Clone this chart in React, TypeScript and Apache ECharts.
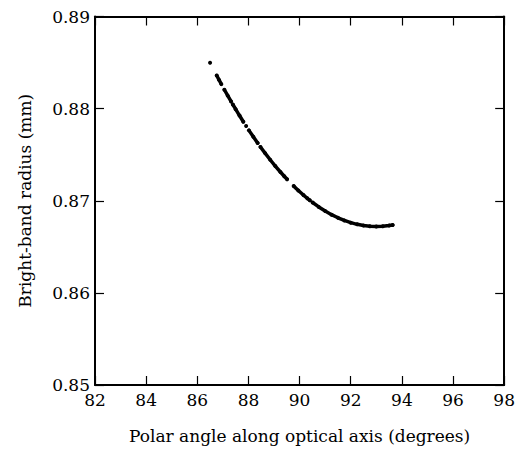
import React, { useEffect, useRef } from "react";
import * as echarts from "echarts";

// Polar angle (degrees) and bright-band radius (mm); null marks a gap in the trace
const angles: number[] = [
  86.5, 86.5,
  86.76, 86.85, 86.94, 86.94,
  87.06, 87.19, 87.32, 87.32,
  87.39, 87.5, 87.65, 87.8, 87.8,
  87.91, 87.91,
  88.02, 88.19, 88.36, 88.36,
  88.47, 88.65, 88.85, 89.05, 89.25, 89.4, 89.51, 89.51,
  89.77, 89.95, 90.15, 90.3, 90.4, 90.4,
  90.51, 90.75, 91.0, 91.25, 91.5, 91.75, 92.0, 92.25, 92.5, 92.75, 93.0, 93.25, 93.5, 93.64,
];
const radii: (number | null)[] = [
  0.88499, null,
  0.88359, 0.88312, 0.88266, null,
  0.88205, 0.88141, 0.88078, null,
  0.88045, 0.87994, 0.87925, 0.87858, null,
  0.87811, null,
  0.87764, 0.87694, 0.87626, null,
  0.87584, 0.87517, 0.87445, 0.87377, 0.87312, 0.87266, 0.87233, null,
  0.87159, 0.87112, 0.87062, 0.87027, 0.87005, null,
  0.86981, 0.86933, 0.86888, 0.86849, 0.86815, 0.86786, 0.86762, 0.86744, 0.86731, 0.86723, 0.8672, 0.86723, 0.86731, 0.86737,
];

const FONT = "DejaVu Serif";

export default function App() {
  const ref = useRef<HTMLDivElement>(null);
  useEffect(() => {
    if (!ref.current) return;
    const chart = echarts.init(ref.current, undefined, { renderer: "svg" });
    const data = angles.map((a, i) => [a, radii[i] === null ? null : radii[i]]);
    const axisLine = { show: true, lineStyle: { color: "#000", width: 2 } };
    const axisTick = { show: true, inside: true, length: 9, lineStyle: { color: "#000", width: 1.2 } };
    chart.setOption({
      animation: false,
      backgroundColor: "#fff",
      grid: { left: 76, top: 6, right: 4, bottom: 51, containLabel: false },
      xAxis: [
        {
          type: "value",
          min: 82,
          max: 98,
          interval: 2,
          axisLine,
          axisTick,
          splitLine: { show: false },
          axisLabel: { color: "#000", fontFamily: FONT, fontSize: 17, margin: 6 },
          name: "Polar angle along optical axis (degrees)",
          nameLocation: "middle",
          nameGap: 42,
          nameTextStyle: { color: "#000", fontFamily: FONT, fontSize: 17 },
        },
        {
          type: "value",
          position: "top",
          min: 82,
          max: 98,
          interval: 2,
          axisLine,
          axisTick,
          splitLine: { show: false },
          axisLabel: { show: false },
        },
      ],
      yAxis: [
        {
          type: "value",
          min: 0.85,
          max: 0.89,
          interval: 0.01,
          axisLine,
          axisTick,
          splitLine: { show: false },
          axisLabel: {
            color: "#000",
            fontFamily: FONT,
            fontSize: 17,
            margin: 5,
            formatter: (v: number) => v.toFixed(2),
          },
          name: "Bright-band radius (mm)",
          nameLocation: "middle",
          nameGap: 62,
          nameTextStyle: { color: "#000", fontFamily: FONT, fontSize: 17 },
        },
        {
          type: "value",
          position: "right",
          min: 0.85,
          max: 0.89,
          interval: 0.01,
          axisLine,
          axisTick,
          splitLine: { show: false },
          axisLabel: { show: false },
        },
      ],
      series: [
        {
          type: "line",
          data,
          connectNulls: false,
          showSymbol: true,
          symbol: "circle",
          symbolSize: 4,
          itemStyle: { color: "#000" },
          lineStyle: { color: "#000", width: 3.5, cap: "round" },
        },
      ],
    });
    return () => chart.dispose();
  }, []);
  return <div ref={ref} style={{ width: 510, height: 441 }} />;
}
